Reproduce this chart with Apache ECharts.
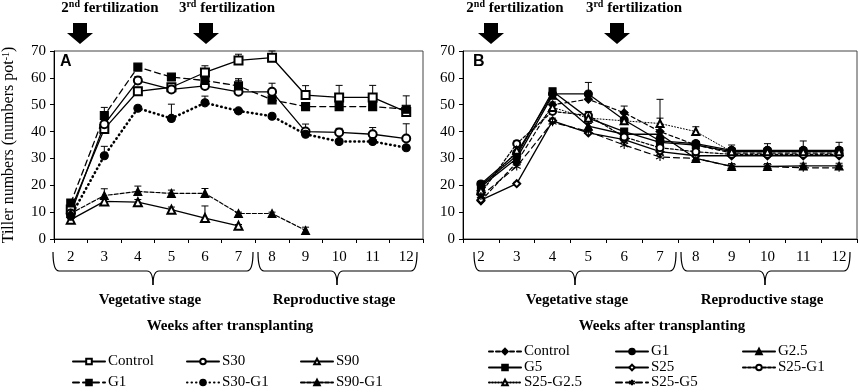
<!DOCTYPE html>
<html>
<head>
<meta charset="utf-8">
<script src="https://cdn.jsdelivr.net/npm/echarts@6/dist/echarts.min.js"></script>
<style>
  html, body { margin: 0; padding: 0; background: #fff; }
  #main { width: 858px; height: 392px; }
</style>
</head>
<body>
<div id="main"></div>
<script>
// weeks after transplanting
var weeks = ['2', '3', '4', '5', '6', '7', '8', '9', '10', '11', '12'];
var yMin = 0, yMax = 70, yStep = 10;

// panel A
var aControl = [11, 41, 55, 56.5, 62, 66.5, 67.5, 53.6, 52.7, 52.7, 47.3];
var aControlErr = [1, 1.5, 1.5, 1, 2.5, 2.3, 2.5, 3.5, 4.5, 4.5, 1];
var aS30 = [9.5, 42.7, 59, 55.7, 57, 54.8, 54.8, 40, 39.7, 39, 37.4];
var aS30Err = [1, 1.5, 1.5, 1, 1, 4.3, 3.2, 2.8, 1.5, 2.5, 5.5];
var aS90 = [7.2, 14, 13.7, 10.9, 7.8, 4.9, null, null, null, null, null];
var aS90Err = [0.8, 1, 1, 1, 4.5, 0.5, 0, 0, 0, 0, 0];
var aG1 = [13.4, 46, 64, 60.3, 59, 57, 51.8, 49.3, 49.3, 49.3, 48.3];
var aG1Err = [1, 3, 0.5, 1, 1.5, 2.7, 1, 0.5, 0.5, 0.5, 5];
var aS30G1 = [8.5, 31, 48.7, 44.9, 50.7, 47.7, 45.7, 39, 36.3, 36.3, 34];
var aS30G1Err = [1, 3.5, 0.5, 5.3, 2.5, 0.5, 0.5, 0.5, 0.5, 0.5, 0.5];
var aS90G1 = [9.5, 16.2, 17.7, 17, 17, 9.5, 9.5, 3.2, null, null, null];
var aS90G1Err = [1, 2.5, 2, 1.2, 1.8, 0.5, 0.5, 1.2, 0, 0, 0];

// panel B
var bControl = [14.2, 28.5, 50, 52, 47, 40, 35, 32, 32, 32, 32];
var bControlErr = [1, 1, 1, 1, 2.5, 5, 1, 1.5, 1.5, 1.5, 1.5];
var bG1 = [20.5, 32, 54, 54, 44.3, 36.5, 35.5, 33, 33, 33, 33];
var bG1Err = [1, 1, 1, 4.3, 3, 2, 1, 2, 2.5, 3.5, 3];
var bG25 = [19.5, 30, 53.5, 42, 39, 39, 30, 27, 27, 27.2, 27.2];
var bG25Err = [1, 1, 1, 1, 1, 1, 1, 1, 1, 1, 1];
var bG5 = [20, 31, 55, 45, 40, 36, 35, 32.5, 32.5, 32.5, 32.5];
var bG5Err = [1, 1, 1, 1, 1, 2, 1, 1.5, 1.5, 1.5, 1.5];
var bS25 = [14.5, 20.6, 44, 39.5, 37, 32.5, 31, 31, 31, 31, 31];
var bS25Err = [1, 0.5, 1, 1, 1, 1, 1, 1, 1, 1, 1];
var bS25G1 = [17, 35.5, 47.5, 46, 38, 34, 32.5, 31.5, 31.5, 31.5, 31.5];
var bS25G1Err = [1, 1, 1, 1.5, 1, 1, 1, 1, 1, 1, 1];
var bS25G25 = [18, 33, 49, 45, 44, 43, 40, 32.5, 32.5, 32.5, 32.5];
var bS25G25Err = [1, 1, 1, 1, 1, 9, 1.8, 1, 1, 1, 1];
var bS25G5 = [16, 27, 43.5, 40, 35, 30.5, 30, 27, 27, 26.5, 26.5];
var bS25G5Err = [1, 1, 1, 1, 1, 1, 1, 1, 1, 1, 1];

var serif = 'Liberation Serif';
var star = 'path://M0,-5L0,5M-4.33,-2.5L4.33,2.5M-4.33,2.5L4.33,-2.5';

function line(name, data, symbol, size, dash, width, ax) {
    return {
        name: name,
        type: 'line',
        xAxisIndex: ax,
        yAxisIndex: ax,
        data: data,
        symbol: symbol,
        symbolSize: size,
        showAllSymbol: true,
        connectNulls: false,
        z: 3,
        lineStyle: { color: '#000', width: width, type: dash, cap: 'round' },
        itemStyle: { color: '#000', borderColor: '#000', borderWidth: 1.1 },
        emphasis: { disabled: true }
    };
}

// upward-only error bars with caps
function err(vals, errs, ax) {
    var d = [];
    for (var i = 0; i < vals.length; i++) {
        if (vals[i] != null && errs[i]) d.push([i, vals[i], errs[i]]);
    }
    return {
        type: 'custom',
        xAxisIndex: ax,
        yAxisIndex: ax,
        data: d,
        z: 2,
        silent: true,
        encode: { x: 0, y: 1 },
        renderItem: function (params, api) {
            var p = api.coord([api.value(0), api.value(1)]);
            var t = api.coord([api.value(0), api.value(1) + api.value(2)]);
            var st = { stroke: '#000', lineWidth: 1 };
            return {
                type: 'group',
                children: [
                    { type: 'line', shape: { x1: p[0], y1: p[1], x2: p[0], y2: t[1] }, style: st },
                    { type: 'line', shape: { x1: p[0] - 3.5, y1: t[1], x2: p[0] + 3.5, y2: t[1] }, style: st }
                ]
            };
        }
    };
}

// one legend per entry so the columns line up
function legend(name, left, top) {
    return {
        data: [name],
        left: left,
        top: top,
        itemWidth: 32,
        itemHeight: 7,
        selectedMode: false,
        padding: 0,
        textStyle: { fontFamily: serif, fontSize: 15, color: '#000', padding: [0, 0, 0, -2] }
    };
}

function xAx(grid) {
    return {
        type: 'category',
        gridIndex: grid,
        data: weeks,
        boundaryGap: true,
        axisLine: { lineStyle: { color: '#000', width: 1 } },
        axisTick: { show: true, length: 4, lineStyle: { color: '#000' } },
        axisLabel: { margin: 11, fontFamily: serif, fontSize: 15, color: '#000' }
    };
}

function yAx(grid, name) {
    return {
        type: 'value',
        gridIndex: grid,
        min: yMin,
        max: yMax,
        interval: yStep,
        name: name,
        nameLocation: 'middle',
        nameRotate: 90,
        nameGap: 37,
        nameTextStyle: {
            fontFamily: serif, fontSize: 16, color: '#000',
            rich: { s: { fontFamily: serif, fontSize: 10, verticalAlign: 'top', padding: [0, 0, 6, 0] } }
        },
        splitLine: { show: false },
        axisLine: { show: true, lineStyle: { color: '#000' } },
        axisTick: { show: true, length: 4, lineStyle: { color: '#000' } },
        axisLabel: { margin: 8, fontFamily: serif, fontSize: 15, color: '#000' }
    };
}

// curly brace under a group of weeks
function brace(x1, x2, mid) {
    var y0 = 252, y1 = 271, y2 = 285;
    var st = { stroke: '#000', fill: null, lineWidth: 1.2 };
    return {
        type: 'group',
        children: [
            { type: 'bezierCurve', shape: { x1: x1, y1: y0, cpx1: x1, cpy1: y1, x2: x1 + 6, y2: y1 }, style: st },
            { type: 'line', shape: { x1: x1 + 6, y1: y1, x2: mid - 6, y2: y1 }, style: st },
            { type: 'bezierCurve', shape: { x1: mid - 6, y1: y1, cpx1: mid, cpy1: y1, x2: mid, y2: y2 }, style: st },
            { type: 'bezierCurve', shape: { x1: mid + 6, y1: y1, cpx1: mid, cpy1: y1, x2: mid, y2: y2 }, style: st },
            { type: 'line', shape: { x1: mid + 6, y1: y1, x2: x2 - 6, y2: y1 }, style: st },
            { type: 'bezierCurve', shape: { x1: x2, y1: y0, cpx1: x2, cpy1: y1, x2: x2 - 6, y2: y1 }, style: st }
        ]
    };
}

function arrow(cx) {
    return {
        type: 'polygon',
        shape: { points: [[cx - 7, 23], [cx + 7, 23], [cx + 7, 33], [cx + 13, 33], [cx, 44], [cx - 13, 33], [cx - 7, 33]] },
        style: { fill: '#000' }
    };
}

function txt(x, y, s, size, align, font) {
    return {
        type: 'text',
        x: x,
        y: y,
        style: {
            text: s,
            fontFamily: font || serif,
            fontWeight: 'bold',
            fontSize: size,
            fill: '#000',
            align: align || 'center',
            verticalAlign: 'middle',
            rich: { s: { fontFamily: serif, fontWeight: 'bold', fontSize: 10, verticalAlign: 'top', padding: [0, 0, 7, 0] } }
        }
    };
}

var chart = echarts.init(document.getElementById('main'), null, { renderer: 'canvas' });

var option = {
    backgroundColor: '#fff',
    animation: false,
    grid: [
        { left: 52, right: 435, top: 51, bottom: 153, show: true, borderColor: '#444', borderWidth: 1 },
        { left: 463, right: 1, top: 51, bottom: 153, show: true, borderColor: '#444', borderWidth: 1 }
    ],
    xAxis: [xAx(0), xAx(1)],
    yAxis: [yAx(0, 'Tiller numbers (numbers pot{s|-1})'), yAx(1, '')],
    legend: [
        legend('Control', 72, 354), legend('S30', 186, 354), legend('S90', 300, 354),
        legend('G1', 72, 375), legend('S30-G1', 186, 375), legend('S90-G1', 300, 375),
        legend('Control ', 488, 344), legend('G1 ', 615, 344), legend('G2.5', 742, 344),
        legend('G5', 488, 360), legend('S25', 615, 360), legend('S25-G1', 742, 360),
        legend('S25-G2.5', 488, 375), legend('S25-G5', 615, 375)
    ],
    series: [
        err(aControl, aControlErr, 0), err(aS30, aS30Err, 0), err(aS90, aS90Err, 0),
        err(aG1, aG1Err, 0), err(aS30G1, aS30G1Err, 0), err(aS90G1, aS90G1Err, 0),
        line('Control', aControl, 'emptyRect', 8, 'solid', 1.3, 0),
        line('S30', aS30, 'emptyCircle', 8, 'solid', 1.3, 0),
        line('S90', aS90, 'emptyTriangle', 8, 'solid', 1.3, 0),
        line('G1', aG1, 'rect', 8, [6, 4], 1.3, 0),
        line('S30-G1', aS30G1, 'circle', 8, [0.5, 4], 2.6, 0),
        line('S90-G1', aS90G1, 'triangle', 8, [4, 2], 1.2, 0),

        err(bControl, bControlErr, 1), err(bG1, bG1Err, 1), err(bG25, bG25Err, 1),
        err(bG5, bG5Err, 1), err(bS25, bS25Err, 1), err(bS25G1, bS25G1Err, 1),
        err(bS25G25, bS25G25Err, 1), err(bS25G5, bS25G5Err, 1),
        line('Control ', bControl, 'diamond', 8, [4, 3], 1.2, 1),
        line('G1 ', bG1, 'circle', 8, 'solid', 1.3, 1),
        line('G2.5', bG25, 'triangle', 8, 'solid', 1.3, 1),
        line('G5', bG5, 'rect', 7, 'solid', 1.3, 1),
        line('S25', bS25, 'emptyDiamond', 7, 'solid', 1.3, 1),
        line('S25-G1', bS25G1, 'emptyCircle', 7, [3, 2], 1.2, 1),
        line('S25-G2.5', bS25G25, 'emptyTriangle', 7, [1, 2], 1, 1),
        line('S25-G5', bS25G5, star, 8, [6, 4], 1.2, 1)
    ],
    graphic: [
        txt(110, 8, '2{s|nd} fertilization', 15),
        txt(227, 8, '3{s|rd} fertilization', 15),
        txt(515, 8, '2{s|nd} fertilization', 15),
        txt(634, 8, '3{s|rd} fertilization', 15),
        arrow(80), arrow(206), arrow(491), arrow(617),
        txt(60, 62, 'A', 16, 'left', 'Liberation Sans'),
        txt(473, 62, 'B', 16, 'left', 'Liberation Sans'),
        brace(53, 253, 153), brace(258, 417, 337),
        brace(474, 676, 575), brace(681, 850, 765),
        txt(150, 300, 'Vegetative stage', 15),
        txt(334, 300, 'Reproductive stage', 15),
        txt(577, 300, 'Vegetative stage', 15),
        txt(762, 300, 'Reproductive stage', 15),
        txt(230, 326, 'Weeks after transplanting', 15),
        txt(662, 326, 'Weeks after transplanting', 15)
    ]
};

chart.setOption(option);
</script>
</body>
</html>
